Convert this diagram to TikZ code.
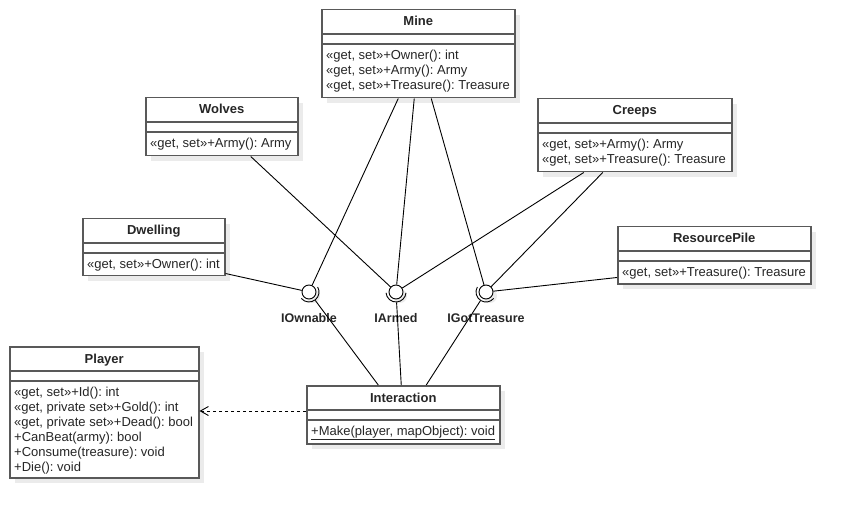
\documentclass[tikz,border=0pt]{standalone}
\usepackage{fontspec}
\setmainfont{Liberation Sans}
\usetikzlibrary{calc,shadows,arrows.meta}
\frenchspacing

\newcommand{\umlfont}{\fontsize{13}{15}\selectfont}
% name, x, y, width, height, title, attributes
\newcommand{\umlclass}[7]{%
  \node[classbox, minimum width=#4, minimum height=#5] (#1) at (#2,#3) {};
  \node[classtitle] (#1-t) at ($(#1.north)+(0,-17)$) {#6};
  \draw[classline] ($(#1.north west)+(0,-25)$) -- ($(#1.north east)+(0,-25)$);
  \draw[classline] ($(#1.north west)+(0,-35)$) -- ($(#1.north east)+(0,-35)$);
  \node[classattr] (#1-a) at ($(#1.north west)+(5,-39.5)$) {\strut #7};
}

\begin{document}
\begin{tikzpicture}[
    x=1pt, y=1pt, font=\umlfont,
    classbox/.style={rectangle, draw=black!65, line width=1.5pt, fill=white, anchor=north west, inner sep=0,
      general shadow={fill=black!8, shadow xshift=5pt, shadow yshift=-5pt}},
    classline/.style={draw=black!65, line width=1.5pt},
    classtitle/.style={anchor=base, inner sep=0, text=black!85, font=\umlfont\bfseries},
    classattr/.style={anchor=north west, align=left, inner sep=0, text=black!85},
    iface/.style={circle, draw, line width=0.9pt, minimum size=14pt, inner sep=0, fill=white,
      general shadow={fill=black!8, shadow xshift=4pt, shadow yshift=-4pt}},
    ilabel/.style={anchor=base, inner sep=0, text=black!85, font=\fontsize{12.5}{15}\selectfont\bfseries},
    link/.style={draw, line width=0.9pt},
    dep/.style={-{Straight Barb[length=8pt, width=9pt]}, line width=0.9pt, dash pattern=on 3pt off 3pt}
]
\useasboundingbox (0,0) rectangle (850,-518);

% classes
\umlclass{mine}{321}{-9}{193pt}{88pt}{Mine}{«get, set»+Owner(): int\\«get, set»+Army(): Army\\«get, set»+Treasure(): Treasure}
\umlclass{wolves}{145}{-97}{152pt}{58pt}{Wolves}{«get, set»+Army(): Army}
\umlclass{creeps}{537}{-98}{194pt}{73pt}{Creeps}{«get, set»+Army(): Army\\«get, set»+Treasure(): Treasure}
\umlclass{dwell}{82}{-218}{142pt}{57pt}{Dwelling}{«get, set»+Owner(): int}
\umlclass{rpile}{617}{-226}{193pt}{57pt}{ResourcePile}{«get, set»+Treasure(): Treasure}
\umlclass{player}{9}{-346}{189pt}{131pt}{Player}{«get, set»+Id(): int\\«get, private set»+Gold(): int\\«get, private set»+Dead(): bool\\+CanBeat(army): bool\\+Consume(treasure): void\\+Die(): void}
\umlclass{inter}{306}{-385}{193pt}{58pt}{Interaction}{\underline{+Make(player, mapObject): void}}

% interfaces
\node[iface] (iown) at (309,-292) {};
\node[iface] (iarm) at (396,-292) {};
\node[iface] (igot) at (486,-292) {};
\draw[link] ([shift={(220:10pt)}]iown.center) arc[start angle=220, end angle=390, radius=10pt];
\draw[link] ([shift={(185:10pt)}]iarm.center) arc[start angle=185, end angle=355, radius=10pt];
\draw[link] ([shift={(150:10pt)}]igot.center) arc[start angle=150, end angle=320, radius=10pt];

\node[ilabel] (iown-l) at ($(iown)+(0,-30)$) {IOwnable};
\node[ilabel] (iarm-l) at ($(iarm)+(0,-30)$) {IArmed};
\node[ilabel] (igot-l) at ($(igot)+(0,-30)$) {IGotTreasure};

% provided
\draw[link] ($(mine.south)+(-20,0)$) -- (iown);
\draw[link] ($(mine.south)+(-4,0)$) -- (iarm);
\draw[link] ($(mine.south)+(13,0)$) -- (igot);
\draw[link] ($(wolves.south)+(29,0)$) -- (iarm);
\draw[link] ($(dwell.south east)+(0,3)$) -- (iown);
\draw[link] ($(creeps.south)+(-51,0)$) -- (iarm);
\draw[link] ($(creeps.south)+(-32,0)$) -- (igot);
\draw[link] ($(rpile.south west)+(0,7)$) -- (igot);

% required
\draw[link, shorten >=3pt] ($(inter.north)+(-25,0)$) -- (iown);
\draw[link, shorten >=3pt] ($(inter.north)+(-2,0)$) -- (iarm);
\draw[link, shorten >=3pt] ($(inter.north)+(23,0)$) -- (igot);

% dependency
\coordinate (depfrom) at ($(inter.north west)+(0,-26)$);
\draw[dep] (depfrom) -- (player.east |- depfrom);
\end{tikzpicture}
\end{document}
